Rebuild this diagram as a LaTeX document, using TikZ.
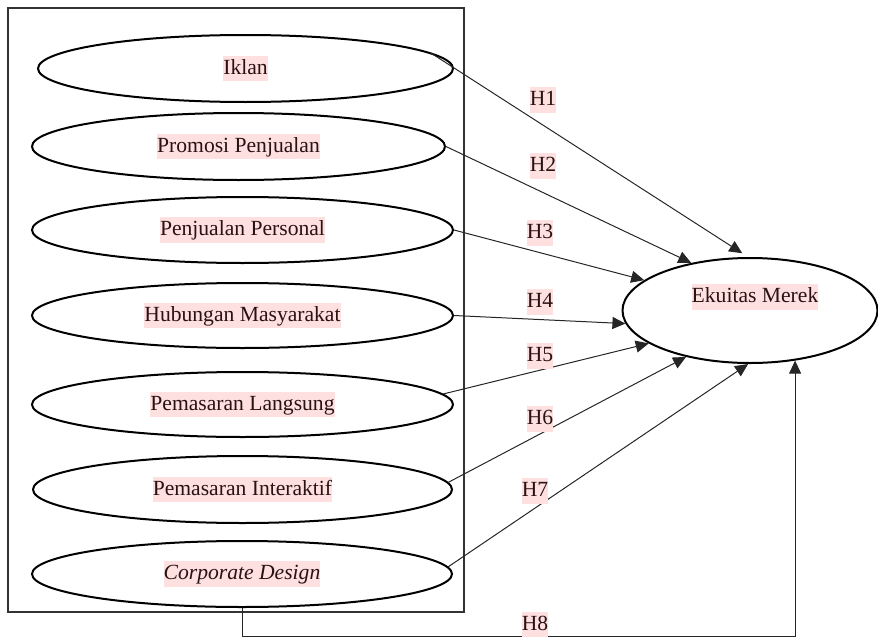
\documentclass[tikz,border=0pt]{standalone}
\usepackage{fontspec}
\setmainfont{Liberation Serif}
\usetikzlibrary{shapes.geometric,arrows.meta,positioning}
\usepackage{xcolor}

\definecolor{hlpink}{RGB}{255,224,224}
\definecolor{inkdark}{RGB}{40,18,18}
\newcommand{\hl}[1]{{\setlength{\fboxsep}{0pt}\colorbox{hlpink}{\rule[-0.33em]{0pt}{1.17em}#1}}}

\tikzset{
  oval/.style={draw, ellipse, line width=1pt, inner sep=0pt, text=inkdark,
    font=\fontsize{10.8}{13}\selectfont},
  hlabel/.style={inner sep=0pt, text=inkdark, font=\fontsize{10.8}{13}\selectfont},
  hyp/.style={draw=black!85, line width=0.5pt, -{Triangle[length=6.5pt,width=6pt]}}
}

\begin{document}
\begin{tikzpicture}[x=0.5pt,y=-0.5pt]
\useasboundingbox (0,0) rectangle (878,637);

% === LEFT: marketing communication mix ===
\draw[black!80, line width=0.8pt] (8,8) rectangle (464,612);
\node[oval, minimum width=207.5pt, minimum height=33.5pt] (iklan) at (245.5,68.5) {\hl{Iklan}};
\node[oval, minimum width=206.5pt, minimum height=33.5pt] (promosi) at (238.5,146.5) {\hl{Promosi Penjualan}};
\node[oval, minimum width=210.5pt, minimum height=33pt] (personal) at (242.5,230) {\hl{Penjualan Personal}};
\node[oval, minimum width=210.5pt, minimum height=32.5pt] (humas) at (242.5,315.5) {\hl{Hubungan Masyarakat}};
\node[oval, minimum width=210.5pt, minimum height=32.5pt] (langsung) at (242.5,404.5) {\hl{Pemasaran Langsung}};
\node[oval, minimum width=209.5pt, minimum height=33.5pt] (interaktif) at (242.5,489.5) {\hl{Pemasaran Interaktif}};
\node[oval, minimum width=210pt, minimum height=33pt] (corporate) at (242,574) {\hl{\itshape Corporate Design}};

% === RIGHT: brand equity ===
\node[oval, minimum width=127.5pt, minimum height=52.5pt] (ekuitas) at (750,310.5) {};
\node[hlabel] (ekuitastxt) at (755,297) {\hl{Ekuitas Merek}};

% === Hypotheses ===
\draw[hyp, shorten >=3.5pt] (iklan.5) -- (ekuitas.92);
\draw[hyp] (promosi.0) -- (ekuitas.141);
\draw[hyp] (personal.east) -- (ekuitas.164);
\draw[hyp] (humas.east) -- (ekuitas.186);
\draw[hyp] (langsung.3) -- (ekuitas.198);
\draw[hyp] (interaktif.2) -- (ekuitas.216);
\draw[hyp] (corporate.2) -- (ekuitas.268);
\draw[hyp] (corporate.south) -- ++(0,28) -| (ekuitas.312);

\node[hlabel] (h1) at (543,100) {\hl{H1}};
\node[hlabel] (h2) at (543,166) {\hl{H2}};
\node[hlabel] (h3) at (540,233) {\hl{H3}};
\node[hlabel] (h4) at (540,302) {\hl{H4}};
\node[hlabel] (h5) at (540,356) {\hl{H5}};
\node[hlabel] (h6) at (540,419) {\hl{H6}};
\node[hlabel] (h7) at (535,491) {\hl{H7}};
\node[hlabel] (h8) at (535,625) {\hl{H8}};

\end{tikzpicture}
\end{document}
